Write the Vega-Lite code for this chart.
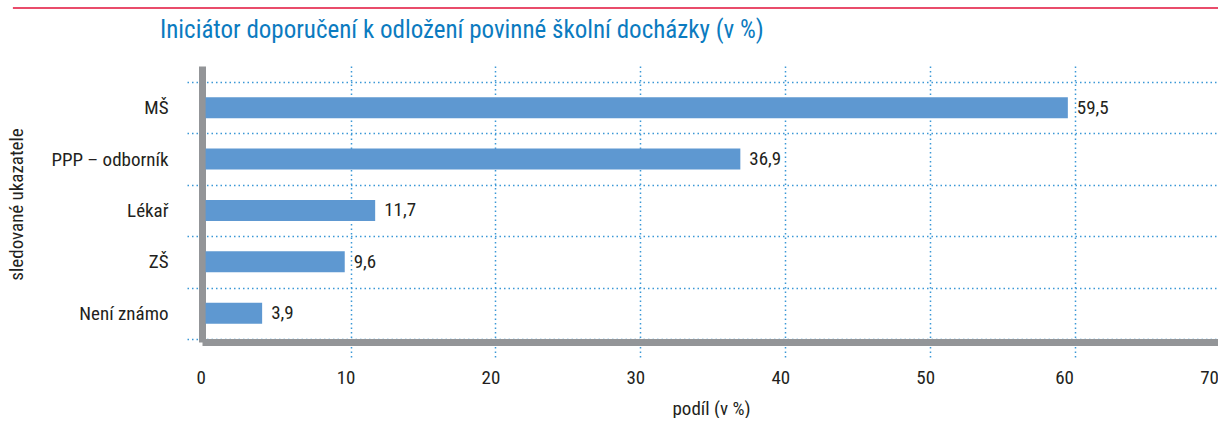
{
  "$schema": "https://vega.github.io/schema/vega-lite/v6.json",
  "background": "white",
  "padding": {"left": 7, "top": 7, "right": 0, "bottom": 0},
  "spacing": 9,
  "config": {
    "font": "Roboto Condensed, DejaVu Sans Condensed, sans-serif",
    "locale": {"number": {"decimal": ",", "thousands": " ", "grouping": [3], "currency": ["", " Kč"]}},
    "axis": {"labelFont": "Roboto Condensed, DejaVu Sans Condensed, sans-serif", "titleFont": "Roboto Condensed, DejaVu Sans Condensed, sans-serif"}
  },
  "vconcat": [
    {
      "width": 1018,
      "height": 1,
      "view": {"stroke": null},
      "data": {"values": [{"start": -13.3, "end": 70.25}]},
      "mark": {"type": "rule", "color": "#e2103a", "strokeWidth": 1.6},
      "encoding": {
        "x": {"field": "start", "type": "quantitative", "scale": {"domain": [-0.25, 70], "nice": false, "zero": false}, "axis": null},
        "x2": {"field": "end"},
        "y": {"datum": 0, "type": "quantitative", "scale": {"domain": [0, 1]}, "axis": null}
      }
    },
    {
      "width": 1018,
      "height": 276,
      "view": {"stroke": null},
      "title": {
        "text": "Iniciátor doporučení k odložení povinné školní docházky (v %)",
        "anchor": "start",
        "frame": "group",
        "dx": -42,
        "offset": 14,
        "font": "Roboto Condensed, DejaVu Sans Condensed, sans-serif",
        "fontSize": 25,
        "fontWeight": "normal",
        "color": "#0b7bc0"
      },
      "data": {
        "values": [
          {"kategorie": "MŠ", "podil": 59.5},
          {"kategorie": "PPP – odborník", "podil": 36.9},
          {"kategorie": "Lékař", "podil": 11.7},
          {"kategorie": "ZŠ", "podil": 9.6},
          {"kategorie": "Není známo", "podil": 3.9}
        ]
      },
      "encoding": {
        "y": {
          "field": "kategorie",
          "type": "nominal",
          "sort": null,
          "scale": {"paddingInner": 0, "paddingOuter": 0.185, "align": 0.84},
          "axis": {
            "title": "sledované ukazatele",
            "titleFontSize": 19,
            "titleFontWeight": "normal",
            "titleColor": "#231f20",
            "titlePadding": 24,
            "labelFontSize": 19,
            "labelColor": "#231f20",
            "labelPadding": 17,
            "tickBand": "extent",
            "grid": true,
            "gridColor": "#3b98d6",
            "gridDash": [1.5, 3],
            "gridWidth": 1.5,
            "ticks": true,
            "tickSize": 17,
            "tickColor": "#3b98d6",
            "tickDash": [1.5, 3],
            "tickWidth": 1.5,
            "domain": true,
            "domainColor": "#939598",
            "domainWidth": 7
          }
        },
        "x": {
          "field": "podil",
          "type": "quantitative",
          "scale": {"domain": [-0.25, 70], "nice": false, "zero": false},
          "axis": {
            "title": "podíl (v %)",
            "titleFontSize": 19,
            "titleFontWeight": "normal",
            "titleColor": "#231f20",
            "titlePadding": 12,
            "values": [0, 10, 20, 30, 40, 50, 60, 70],
            "labelFontSize": 19,
            "labelColor": "#231f20",
            "labelFlush": false,
            "labelOffset": {"condition": {"test": "datum.value >= 60", "value": -11}, "value": -5},
            "labelPadding": 9,
            "grid": true,
            "gridColor": {"condition": {"test": "datum.value === 0", "value": "transparent"}, "value": "#3b98d6"},
            "gridDash": [1.5, 3],
            "gridWidth": 1.5,
            "tickSize": 17,
            "tickColor": {"condition": {"test": "datum.value === 0", "value": "transparent"}, "value": "#3b98d6"},
            "tickDash": [1.5, 3],
            "tickWidth": 1.5,
            "domain": true,
            "domainColor": "#939598",
            "domainWidth": 7
          }
        }
      },
      "layer": [
        {
          "mark": {"type": "bar", "height": 21, "color": "#5e98d1"},
          "encoding": {"x2": {"datum": 0}}
        },
        {
          "mark": {"type": "text", "align": "left", "baseline": "middle", "dx": 9, "fontSize": 19, "color": "#231f20"},
          "encoding": {"text": {"field": "podil", "type": "quantitative", "format": ".1f"}}
        }
      ]
    }
  ]
}
